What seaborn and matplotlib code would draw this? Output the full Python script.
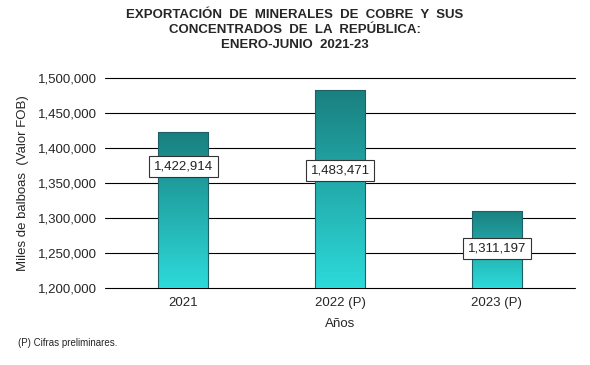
import numpy as np
import pandas as pd
import seaborn as sns
import matplotlib.pyplot as plt
from matplotlib.colors import LinearSegmentedColormap

# datos
anios = ["2021", "2022 (P)", "2023 (P)"]
valores = [1422914, 1483471, 1311197]
etiquetas = ["1,422,914", "1,483,471", "1,311,197"]

df = pd.DataFrame({"Años": anios, "Valor": valores})

sns.set_theme(style="white")
plt.rcParams['font.family'] = ['Liberation Sans', 'DejaVu Sans']

fig = plt.figure(figsize=(5.9, 3.65), dpi=100)
ax = fig.add_axes([0.178, 0.21, 0.797, 0.575])

sns.barplot(data=df, x="Años", y="Valor", ax=ax, width=0.32,
            color="#2bb5b5", edgecolor="#1f5f66", linewidth=0.8, zorder=3)

ymin, ymax = 1200000, 1500000
ax.set_ylim(ymin, ymax)
ax.set_xlim(-0.5, 2.5)

# degradado en cada barra (oscuro arriba, claro abajo)
cmap = LinearSegmentedColormap.from_list("cobre", ["#2ddada", "#1a7f7f"])
grad = np.linspace(0, 1, 256).reshape(-1, 1)
for bar in ax.patches:
    x0, w = bar.get_x(), bar.get_width()
    top = bar.get_height()
    im = ax.imshow(grad, cmap=cmap, origin="lower", aspect="auto",
                   extent=[x0, x0 + w, ymin, top], zorder=3)
    im.set_clip_path(bar)
    bar.set_facecolor("none")
    bar.set_zorder(4)

# etiquetas de valor
label_y = [1374000, 1368000, 1257000]
for i, (txt, yy) in enumerate(zip(etiquetas, label_y)):
    ax.text(i, yy, txt, ha="center", va="center", fontsize=9.5, color="#222222",
            zorder=6, bbox=dict(boxstyle="square,pad=0.35", fc="white",
                                ec="#333333", lw=0.8))

ax.set_yticks(np.arange(1200000, 1500001, 50000))
ax.yaxis.set_major_formatter(plt.FuncFormatter(lambda v, p: f"{v:,.0f}"))
ax.grid(axis="y", color="black", linewidth=0.8, zorder=0)
for gl in ax.get_ygridlines():
    gl.set_clip_on(False)
ax.tick_params(axis="both", labelsize=9.5, length=0, pad=6)
for s in ax.spines.values():
    s.set_visible(False)

ax.set_ylabel("Miles de balboas  (Valor FOB)", fontsize=9.5, labelpad=6)
ax.set_xlabel("Años", fontsize=9.5, labelpad=7)

fig.text(0.5, 0.975, "EXPORTACIÓN  DE  MINERALES  DE  COBRE  Y  SUS\nCONCENTRADOS  DE  LA  REPÚBLICA:\nENERO-JUNIO  2021-23",
         ha="center", va="top", fontsize=9.5, fontweight="bold", linespacing=1.3)
fig.text(0.03, 0.06, "(P) Cifras preliminares.", fontsize=7, ha="left", va="center")

plt.savefig("out.png", dpi=100)
